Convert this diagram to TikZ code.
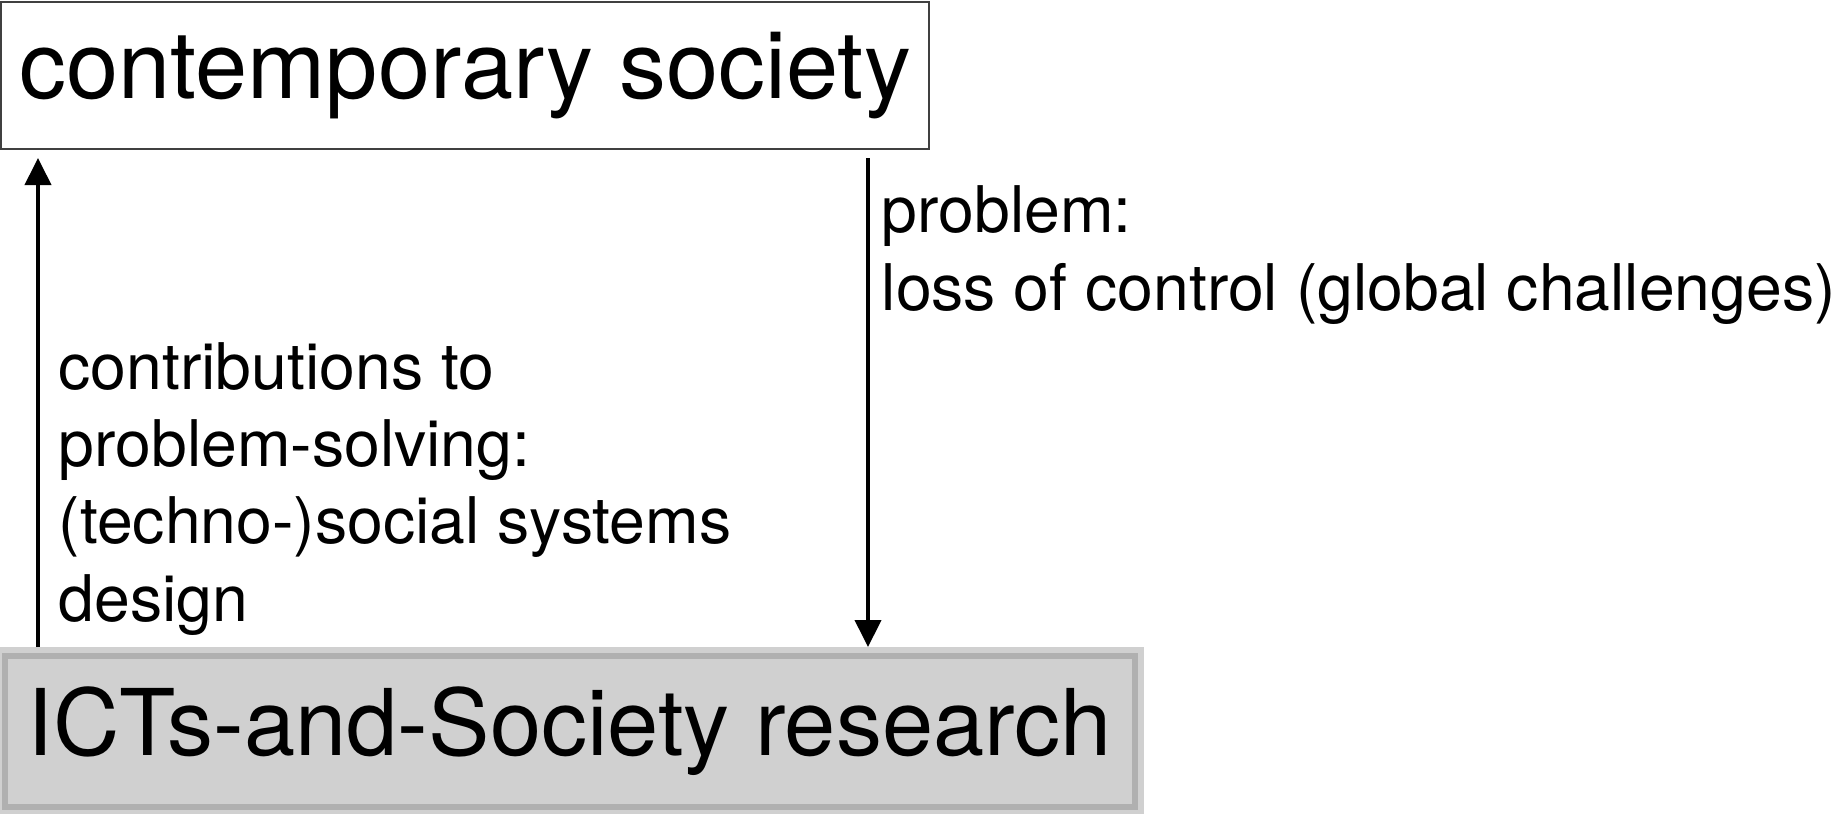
\documentclass[tikz,border=0pt]{standalone}
\usepackage{fontspec}
\setmainfont{TeX Gyre Heros}
\usetikzlibrary{arrows.meta}
\definecolor{boxgrey}{HTML}{D0D0D0}
\definecolor{framegrey}{HTML}{B0B0B0}
\tikzset{
  flow/.style={-{Triangle[length=0.27cm,width=0.26cm]}, line width=0.04cm},
  lbl/.style={align=left, inner sep=0pt, anchor=base west,
    font=\fontsize{18.3pt}{22pt}\selectfont}
}
\begin{document}
\begin{tikzpicture}
                \useasboundingbox (0,0) rectangle (18.34,8.13);
                % Gesellschaft
                \node (soc) at (4.65,7.375) [rectangle, draw=black!75, line width=0.02cm,
                  minimum width=9.28cm, minimum height=1.47cm, inner sep=0pt,
                  font=\fontsize{26.7pt}{32pt}\selectfont] {contemporary society};

                % Forschung
                \node (ict) at (5.6975,0.8175) [rectangle, fill=boxgrey, draw=framegrey,
                  line width=0.06cm, preaction={draw=boxgrey, line width=0.18cm},
                  outer sep=0.09cm, minimum width=11.295cm, minimum height=1.505cm,
                  inner sep=0pt, font=\fontsize{26.2pt}{31pt}\selectfont] {ICTs-and-Society research};

                % Pfeile
                \draw[flow, shorten <=0.08cm] ([xshift=-0.62cm]soc.south east) -- ([xshift=-0.62cm]soc.south east |- ict.north);
                \draw[flow, shorten >=0.08cm] ([xshift=0.38cm]soc.south west |- ict.north) -- ([xshift=0.38cm]soc.south west);

                \node (prob) at (8.81,5.03) [lbl] {problem:\\loss of control (global challenges)};
                \node (contrib) at (0.58,1.92) [lbl] {contributions to\\problem-solving:\\(techno-)social systems\\design};

            \end{tikzpicture}
\end{document}
